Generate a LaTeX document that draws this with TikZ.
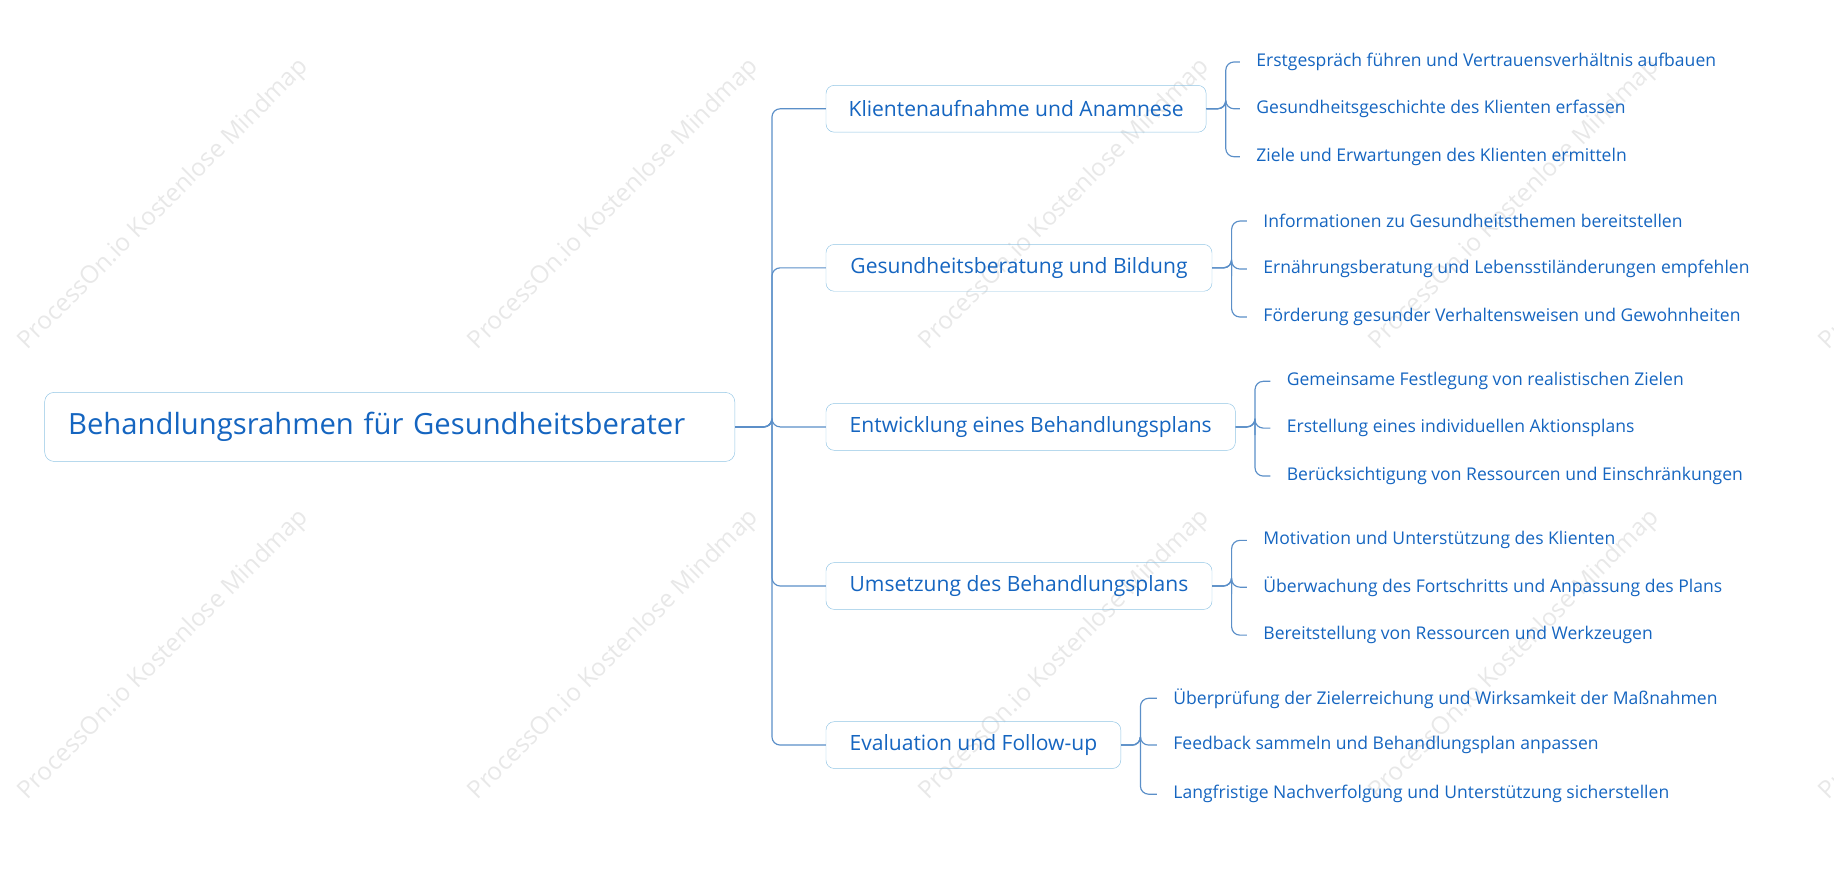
\documentclass[tikz,border=0pt]{standalone}
\usepackage{fontspec}
\setmainfont{Open Sans}
\begin{document}
\begin{tikzpicture}[x=1pt,y=-1pt,
  every node/.style={text=tc},
  root/.style={draw=bc,rounded corners=8pt,minimum height=59pt,font=\fontsize{25}{30}\selectfont,anchor=west,inner xsep=20pt,text width=550pt},
  main/.style={draw=bc,rounded corners=7pt,minimum height=40pt,font=\fontsize{18}{22}\selectfont,anchor=west,inner xsep=15pt},
  leaf/.style={font=\fontsize{15}{18}\selectfont,anchor=west,inner xsep=14pt,inner ysep=2pt},
  con/.style={draw=lc,line width=1pt,rounded corners=7pt},
  wm/.style={text=black!9,rotate=45,font=\fontsize{21}{25}\selectfont}]
\definecolor{tc}{HTML}{1565C0}
\definecolor{bc}{HTML}{90C4E4}
\definecolor{lc}{HTML}{5B8FC8}
\useasboundingbox (0,0) rectangle (1568,744);
\foreach \x in {140,525,910,1295,1680}{\foreach \y in {175,560}{\node[wm] at (\x,\y) {ProcessOn.io Kostenlose Mindmap};}}
\node[root] (r) at (38,365) {Behandlungsrahmen für Gesundheitsberater};
\node[main,minimum width=325pt] (m1) at (706,93) {Klientenaufnahme und Anamnese};
\node[main,minimum width=330pt] (m2) at (706,229) {Gesundheitsberatung und Bildung};
\node[main,minimum width=350pt] (m3) at (706,365) {Entwicklung eines Behandlungsplans};
\node[main,minimum width=330pt] (m4) at (706,501) {Umsetzung des Behandlungsplans};
\node[main,minimum width=252pt] (m5) at (706,637) {Evaluation und Follow-up};
\foreach \i in {1,...,5}{\path[con] (r.east) -| (660,365) |- (m\i.west);}
\node[leaf] (a1) at (1060,53) {Erstgespräch führen und Vertrauensverhältnis aufbauen};
\node[leaf] (a2) at (1060,93) {Gesundheitsgeschichte des Klienten erfassen};
\node[leaf] (a3) at (1060,134) {Ziele und Erwartungen des Klienten ermitteln};
\node[leaf] (b1) at (1066,189) {Informationen zu Gesundheitsthemen bereitstellen};
\node[leaf] (b2) at (1066,230) {Ernährungsberatung und Lebensstiländerungen empfehlen};
\node[leaf] (b3) at (1066,271) {Förderung gesunder Verhaltensweisen und Gewohnheiten};
\node[leaf] (c1) at (1086,326) {Gemeinsame Festlegung von realistischen Zielen};
\node[leaf] (c2) at (1086,366) {Erstellung eines individuellen Aktionsplans};
\node[leaf] (c3) at (1086,407) {Berücksichtigung von Ressourcen und Einschränkungen};
\node[leaf] (d1) at (1066,462) {Motivation und Unterstützung des Klienten};
\node[leaf] (d2) at (1066,502) {Überwachung des Fortschritts und Anpassung des Plans};
\node[leaf] (d3) at (1066,543) {Bereitstellung von Ressourcen und Werkzeugen};
\node[leaf] (e1) at (989,597) {Überprüfung der Zielerreichung und Wirksamkeit der Maßnahmen};
\node[leaf] (e2) at (989,637) {Feedback sammeln und Behandlungsplan anpassen};
\node[leaf] (e3) at (989,679) {Langfristige Nachverfolgung und Unterstützung sicherstellen};
\foreach \m/\l/\x in {m1/a/1048,m2/b/1053,m3/c/1073,m4/d/1053,m5/e/975}{
  \foreach \k in {1,2,3}{\path[con] (\m.east) -| (\x,0 |- \m.east) |- (\l\k.west);}}
\end{tikzpicture}
\end{document}
